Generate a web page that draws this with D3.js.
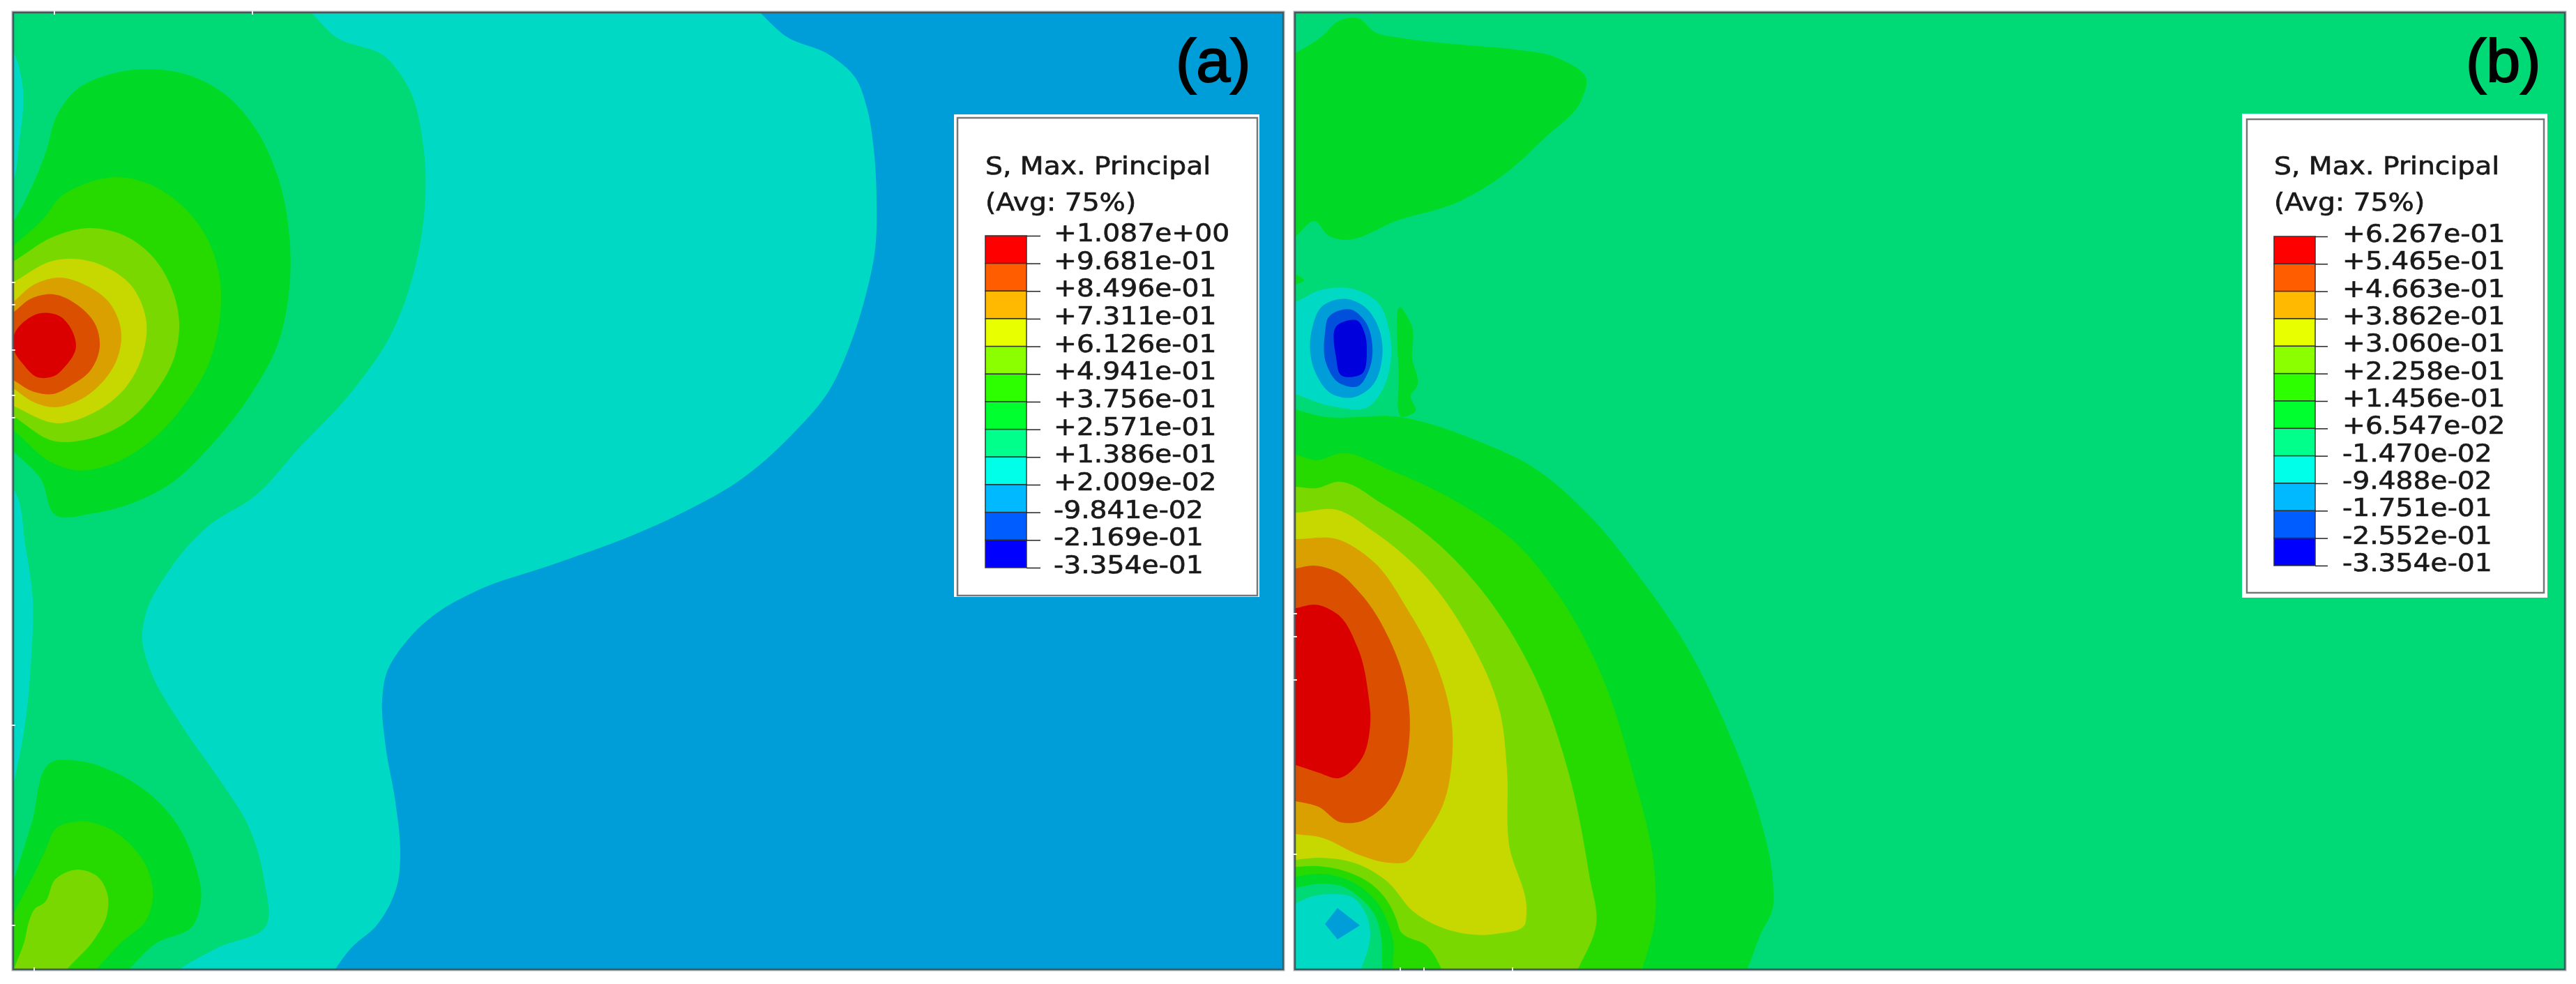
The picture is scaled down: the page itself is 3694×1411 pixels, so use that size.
<!DOCTYPE html>
<html lang="en">
<head>
  <meta charset="UTF-8">
  <title>S, Max. Principal contours</title>
  <script src="https://d3js.org/d3.v7.min.js"></script>
  <style>
    body { margin: 0; background: white; }
    svg { display: block; filter: blur(0.6px); }
    .legend-text { font-family: "DejaVu Sans", sans-serif; font-size: 36px; fill: #1a1a1a; stroke: #1a1a1a; stroke-width: 0.7px; }
    .panel-tag { font-family: "Liberation Sans", sans-serif; font-size: 88px; fill: black; stroke: black; stroke-width: 2px; }
  </style>
</head>
<body>
  <div id="vis"></div>

  <script>
    // legend values, top of the bar first
    const labelsA = ["+1.087e+00", "+9.681e-01", "+8.496e-01", "+7.311e-01", "+6.126e-01", "+4.941e-01", "+3.756e-01",
      "+2.571e-01", "+1.386e-01", "+2.009e-02", "-9.841e-02", "-2.169e-01", "-3.354e-01"];
    const labelsB = ["+6.267e-01", "+5.465e-01", "+4.663e-01", "+3.862e-01", "+3.060e-01", "+2.258e-01", "+1.456e-01",
      "+6.547e-02", "-1.470e-02", "-9.488e-02", "-1.751e-01", "-2.552e-01", "-3.354e-01"];
    const titleLines = ["S, Max. Principal", "(Avg: 75%)"];

    // band colours, red band first
    const legendColors = ["#ff0000", "#ff5d00", "#ffb900", "#e8ff00", "#8bff00", "#2eff00", "#00ff2e", "#00ff8b", "#00ffe8", "#00b9ff", "#005dff", "#0000ff"];
    const plotColors = ["#da0000", "#da5000", "#daa000", "#c6d800", "#78d800", "#26da00", "#00da26", "#00da76", "#00d9c3", "#009ed8", "#0050dc", "#0000dc"];

    // contour outlines, in model units from the top left corner of each plot
    // outlines that run off the plot carry on past its edge and get clipped
    const aCyan = [[-40,-40],[1040,-40],[1060,-12],[1074,3],[1108,34],[1171,61],[1208,94],[1224,136],[1234,196],[1238,268],[1236,339],[1221,411],[1198,482],[1170,542],[1117,605],[1040,672],[964,715],[887,750],[772,792],[665,829],[606,862],[566,899],[534,951],[529,987],[534,1052],[548,1132],[555,1209],[552,1245],[521,1309],[485,1341],[461,1373],[440,1410],[400,1440],[-40,1440]];
    const aMint = [[-40,-40],[400,-40],[410,-15],[427,0],[461,34],[534,64],[566,106],[588,191],[590,280],[575,370],[543,459],[481,549],[410,624],[347,693],[280,736],[253,762],[222,802],[191,859],[185,899],[195,939],[240,1020],[293,1096],[338,1168],[360,1245],[363,1309],[293,1341],[238,1372],[190,1410],[120,1440],[-40,1440]];
    const aStripTop = [[-30,30],[0,57],[12,96],[8,191],[0,242],[-30,290]];
    const aStripLow = [[-30,650],[3,688],[17,762],[28,842],[26,923],[17,1019],[1,1104],[-25,1200]];
    const aGreen = [[-40,350],[0,300],[26,251],[48,196],[61,151],[90,111],[137,89],[195,81],[249,89],[302,116],[347,166],[378,231],[396,320],[396,395],[378,479],[343,544],[285,619],[222,678],[177,701],[115,718],[61,721],[39,668],[0,629],[-40,590]];
    const aGreenLow = [[59,1073],[93,1073],[155,1094],[195,1120],[235,1164],[258,1213],[269,1275],[258,1309],[204,1335],[166,1372],[130,1410],[60,1440],[-40,1440],[-40,1340],[0,1245],[26,1164]];
    const aBright = [[-40,372],[0,335],[48,290],[66,266],[102,246],[151,236],[195,246],[240,275],[276,320],[296,380],[296,440],[280,504],[244,564],[191,619],[137,649],[88,656],[57,646],[0,599],[-40,570]];
    const aBrightLow = [[61,1170],[93,1160],[133,1168],[168,1193],[193,1229],[200,1269],[191,1301],[155,1333],[119,1372],[85,1410],[20,1440],[-40,1440],[-40,1380],[0,1293],[35,1225],[48,1197]];
    const aLime = [[-40,380],[0,357],[61,320],[110,309],[160,320],[200,350],[227,395],[238,445],[231,494],[204,544],[160,589],[110,611],[61,615],[0,579],[-40,555]];
    const aLimeLow = [[93,1229],[121,1239],[136,1269],[134,1295],[114,1332],[78,1371],[50,1410],[20,1440],[-20,1440],[-14,1410],[1,1371],[16,1332],[23,1302],[31,1285],[44,1277],[61,1242]];
    const aYellow = [[-40,410],[0,387],[61,355],[97,354],[133,365],[168,390],[191,445],[186,489],[160,539],[115,574],[66,589],[0,564],[-40,545]];
    const aOrange = [[-40,445],[0,415],[30,390],[66,380],[106,392],[137,415],[155,460],[148,499],[124,534],[88,559],[59,566],[30,559],[0,539],[-40,515]];
    const aDark = [[-40,460],[0,430],[26,410],[57,404],[93,420],[119,450],[124,479],[110,514],[84,534],[57,547],[30,544],[0,527],[-40,505]];
    const aRed = [[2,460],[17,442],[39,431],[66,435],[86,460],[90,479],[73,509],[61,520],[35,523],[14,504],[1,484]];

    const bGreenTop = [[-40,80],[1,58],[40,33],[61,13],[90,8],[116,29],[150,36],[250,47],[316,53],[376,65],[418,96],[410,127],[360,178],[300,232],[233,272],[150,297],[63,325],[50,321],[28,299],[1,321],[-40,350]];
    const bTri = [[-30,360],[1,375],[13,384],[1,390],[-30,400]];
    const bCyan = [[-40,430],[1,415],[40,397],[86,397],[120,417],[135,455],[136,509],[126,540],[106,565],[56,565],[1,547],[-40,530]];
    const bBlue = [[38,422],[76,411],[100,422],[121,455],[125,495],[110,536],[83,552],[53,547],[28,513],[25,451]];
    const bDeep = [[48,437],[81,426],[100,442],[111,478],[106,513],[90,536],[63,531],[45,504],[43,460]];
    const bNavy = [[61,448],[90,442],[100,460],[103,484],[96,518],[66,520],[59,495]];
    const bSliver = [[153,424],[168,451],[168,495],[175,536],[166,549],[173,571],[156,580],[149,518]];
    const bGreen = [[-40,555],[1,569],[33,578],[151,580],[264,615],[340,651],[417,716],[493,808],[560,906],[621,1030],[667,1155],[685,1242],[685,1285],[667,1323],[649,1371],[630,1410],[580,1440],[-40,1440]];
    const bBright = [[-40,625],[1,634],[31,642],[65,632],[136,656],[238,705],[315,759],[381,840],[437,944],[483,1085],[516,1237],[516,1302],[498,1371],[485,1410],[440,1440],[-40,1440]];
    const bLime = [[-40,680],[1,680],[31,682],[60,673],[126,705],[202,759],[269,830],[340,944],[391,1085],[422,1237],[432,1307],[406,1371],[385,1410],[340,1440],[-40,1440]];
    const bYellow = [[-40,715],[1,717],[60,713],[111,743],[187,808],[248,895],[294,1003],[304,1085],[307,1193],[332,1291],[330,1307],[289,1321],[213,1313],[172,1291],[131,1245],[95,1223],[34,1212],[1,1215],[-40,1220]];
    const bOrange = [[-40,755],[1,755],[60,755],[111,786],[162,857],[202,933],[225,1020],[225,1074],[213,1134],[182,1188],[159,1218],[133,1219],[95,1209],[34,1182],[1,1178],[-40,1172]];
    const bDark = [[-40,800],[1,797],[26,793],[60,802],[93,832],[136,900],[162,982],[164,1041],[151,1101],[121,1144],[90,1161],[65,1161],[34,1139],[1,1131],[-40,1125]];
    const bRed = [[-40,860],[1,854],[29,849],[60,862],[90,911],[105,976],[108,1020],[93,1074],[62,1098],[34,1090],[1,1079],[-40,1065]];
    const bNestBright = [[1,1225],[33,1224],[80,1234],[110,1250],[133,1275],[146,1302],[151,1317],[190,1339],[210,1371],[225,1410],[180,1440],[-40,1440],[-40,1227]];
    const bNestGreen = [[1,1239],[33,1235],[66,1240],[96,1255],[120,1279],[133,1305],[141,1332],[140,1371],[140,1410],[100,1440],[-40,1440],[-40,1242]];
    const bNestMint = [[1,1255],[40,1249],[70,1254],[93,1269],[115,1295],[123,1322],[125,1349],[125,1371],[125,1410],[90,1440],[-40,1440],[-40,1262]];
    const bNestCyan = [[1,1277],[26,1267],[53,1264],[83,1269],[100,1289],[108,1319],[103,1349],[95,1371],[85,1410],[50,1440],[-40,1440],[-40,1292]];
    const bNestBlue = [[61,1284],[93,1309],[61,1329],[43,1307]];

    // painter's order: [outline, band index]
    const layersA = [[aCyan, 8], [aMint, 7], [aStripTop, 8], [aStripLow, 8], [aGreen, 6], [aGreenLow, 6], [aBright, 5], [aBrightLow, 5],
      [aLime, 4], [aLimeLow, 4], [aYellow, 3], [aOrange, 2], [aDark, 1], [aRed, 0]];
    const layersB = [[bGreenTop, 6], [bTri, 6], [bSliver, 6], [bCyan, 8], [bBlue, 9], [bDeep, 10], [bNavy, 11], [bGreen, 6], [bBright, 5], [bLime, 4],
      [bYellow, 3], [bOrange, 2], [bDark, 1], [bRed, 0], [bNestBright, 5], [bNestGreen, 6], [bNestMint, 7], [bNestCyan, 8], [bNestBlue, 9]];

    // small white mesh marks on the frame, model units
    const edgeMarksA = { top: [59, 343], left: [387, 419, 484, 549, 581, 1022, 1309], bottom: [30] };
    const edgeMarksB = { top: [], left: [862, 895, 957, 1207], bottom: [151, 185, 312] };

    const panels = [
      { id: "a", tag: "(a)", tagX: 1686, left: 19, base: 9, layers: layersA, labels: labelsA, marks: edgeMarksA,
        box: [1368, 164, 438, 692], inner: [1373, 169, 430, 685], barX: 1413, barTop: 338, barBottom: 814, tick: 20 },
      { id: "b", tag: "(b)", tagX: 3536, left: 1857, base: 7, layers: layersB, labels: labelsB, marks: edgeMarksB,
        box: [3215, 163, 438, 694], inner: [3222, 171, 426, 679], barX: 3261, barTop: 339, barBottom: 811, tick: 18 }
    ];

    const plotWidth = 1821;
    const plotHeight = 1372;
    const plotTop = 18;
    const barWidth = 59;
    const textStretch = 1.09;

    const svg = d3.select("#vis").append("svg")
      .attr("width", 3694)
      .attr("height", 1411);

    svg.append("rect").attr("width", 3694).attr("height", 1411).attr("fill", "white");

    panels.forEach(drawPanel);

    function stretch(selection) {
      selection.each(function () {
        d3.select(this)
          .attr("textLength", this.getComputedTextLength() * textStretch)
          .attr("lengthAdjust", "spacingAndGlyphs");
      });
    }

    function drawPanel(p) {
      const x = d3.scaleLinear().domain([0, plotWidth]).range([p.left, p.left + plotWidth]);
      const y = d3.scaleLinear().domain([0, plotHeight]).range([plotTop, plotTop + plotHeight]);

      const smooth = d3.line().x(d => x(d[0])).y(d => y(d[1])).curve(d3.curveCatmullRomClosed.alpha(1));
      const sharp = d3.line().x(d => x(d[0])).y(d => y(d[1])).curve(d3.curveLinearClosed);

      svg.append("clipPath").attr("id", "clip-" + p.id)
        .append("rect")
        .attr("x", x(0)).attr("y", y(0))
        .attr("width", plotWidth).attr("height", plotHeight);

      const plot = svg.append("g").attr("clip-path", `url(#clip-${p.id})`);

      plot.append("rect")
        .attr("x", x(0)).attr("y", y(0))
        .attr("width", plotWidth).attr("height", plotHeight)
        .attr("fill", plotColors[p.base]);

      plot.selectAll("path")
        .data(p.layers)
        .enter().append("path")
        .attr("d", d => (d[0] === bNestBlue ? sharp : smooth)(d[0]))
        .attr("fill", d => plotColors[d[1]]);

      // frame
      svg.append("rect")
        .attr("x", x(0) - 1).attr("y", y(0) - 1)
        .attr("width", plotWidth + 2).attr("height", plotHeight + 2)
        .attr("fill", "none").attr("stroke", "#b5b5b5").attr("stroke-width", 3);
      svg.append("rect")
        .attr("x", x(0)).attr("y", y(0))
        .attr("width", plotWidth).attr("height", plotHeight)
        .attr("fill", "none").attr("stroke", "#44585f").attr("stroke-width", 2.5);

      const marks = svg.append("g").attr("stroke", "#eeeeee").attr("stroke-width", 2);
      p.marks.top.forEach(v => marks.append("line").attr("x1", x(v)).attr("x2", x(v)).attr("y1", y(0) - 3).attr("y2", y(0) + 3));
      p.marks.bottom.forEach(v => marks.append("line").attr("x1", x(v)).attr("x2", x(v)).attr("y1", y(plotHeight) - 3).attr("y2", y(plotHeight) + 3));
      p.marks.left.forEach(v => marks.append("line").attr("y1", y(v)).attr("y2", y(v)).attr("x1", x(0) - 3).attr("x2", x(0) + 3));

      svg.append("text")
        .attr("class", "panel-tag")
        .attr("x", p.tagX).attr("y", 117)
        .text(p.tag);

      drawLegend(p);
    }

    function drawLegend(p) {
      const g = svg.append("g");

      g.append("rect")
        .attr("x", p.box[0]).attr("y", p.box[1])
        .attr("width", p.box[2]).attr("height", p.box[3])
        .attr("fill", "white");
      g.append("rect")
        .attr("x", p.inner[0]).attr("y", p.inner[1])
        .attr("width", p.inner[2]).attr("height", p.inner[3])
        .attr("fill", "white").attr("stroke", "#777").attr("stroke-width", 2.5);

      g.selectAll(".title")
        .data(titleLines)
        .enter().append("text")
        .attr("class", "legend-text title")
        .attr("x", p.barX)
        .attr("y", (d, i) => 250 + i * 52)
        .text(d => d)
        .call(stretch);

      const barY = d3.scalePoint().domain(p.labels).range([p.barTop, p.barBottom]);

      g.selectAll(".band")
        .data(legendColors)
        .enter().append("rect")
        .attr("class", "band")
        .attr("x", p.barX)
        .attr("y", (d, i) => barY(p.labels[i]))
        .attr("width", barWidth)
        .attr("height", barY.step())
        .attr("fill", d => d)
        .attr("stroke", "#333")
        .attr("stroke-width", 1.5);

      const axis = g.append("g")
        .attr("transform", `translate(${p.barX + barWidth},0)`)
        .call(d3.axisRight(barY).tickSize(p.tick).tickPadding(39 - p.tick));

      axis.select(".domain").remove();
      axis.selectAll("line").attr("stroke", "#222").attr("stroke-width", 1.5);
      axis.selectAll("text")
        .attr("class", "legend-text")
        .attr("y", -4)
        .call(stretch);
      axis.attr("font-size", null).attr("font-family", null);
    }
  </script>
</body>
</html>
